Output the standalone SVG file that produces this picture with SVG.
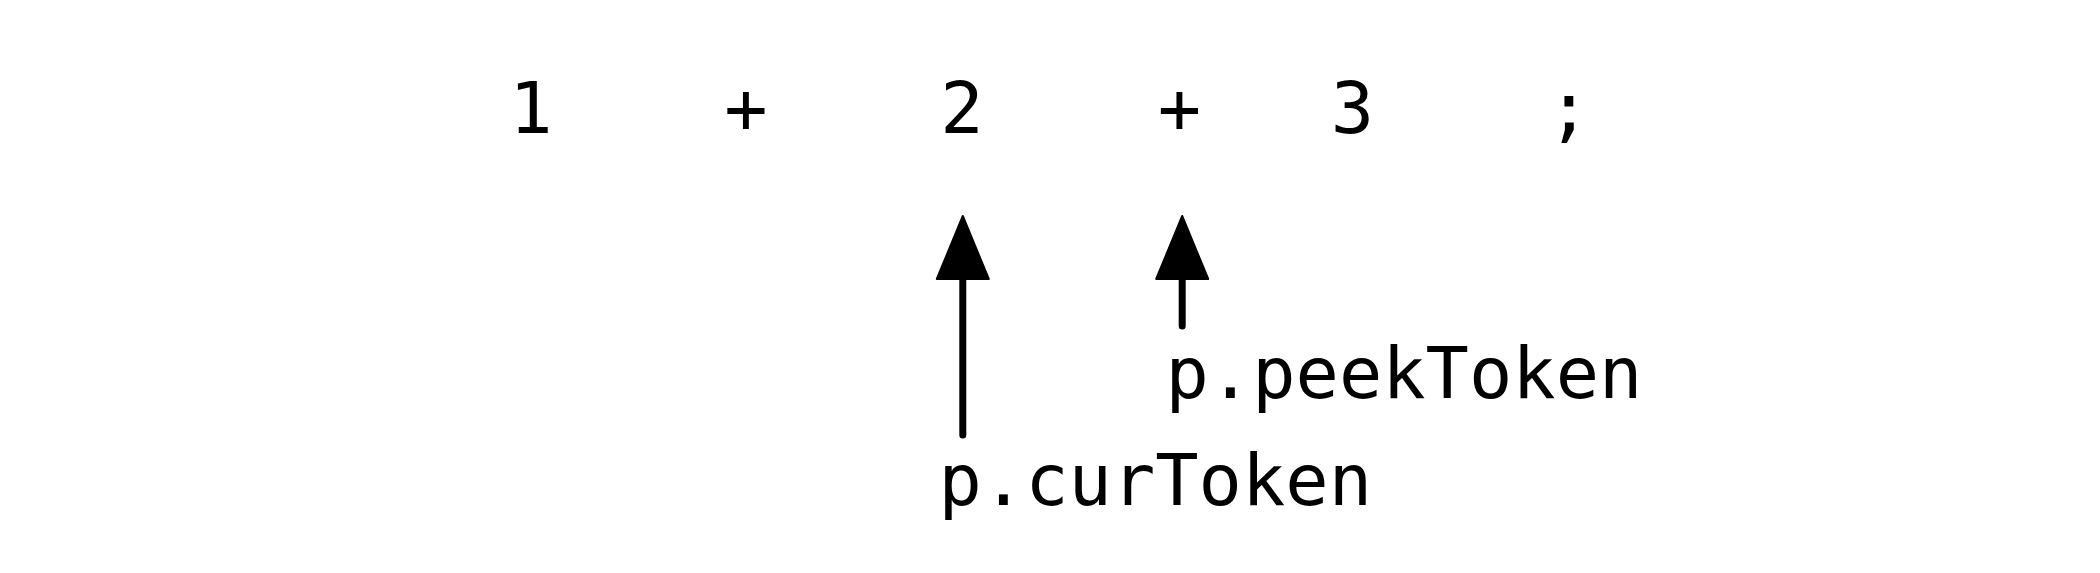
<svg xmlns="http://www.w3.org/2000/svg" width="2100" height="573" viewBox="0 0 2100 573">
<style>
  text { font-family: "DejaVu Sans Mono", "Liberation Mono", monospace; font-size: 72px; fill: #000; }
  .tok { text-anchor: middle; }
  .shaft { stroke: #000; stroke-width: 7; stroke-linecap: round; fill: none; }
  .head { fill: #000; stroke: #000; stroke-width: 2; stroke-linejoin: round; }
</style>
<rect x="0" y="0" width="2100" height="573" fill="#fff"/>
<g id="tokens">
  <g id="tok1"><text class="tok" x="531" y="133">1</text></g>
  <g id="tok2"><text class="tok" x="746" y="133">+</text></g>
  <g id="tok3"><text class="tok" x="962" y="133">2</text></g>
  <g id="tok4"><text class="tok" x="1179.5" y="133">+</text></g>
  <g id="tok5"><text class="tok" x="1352.5" y="133">3</text></g>
  <g id="tok6"><text class="tok" x="1569" y="133">;</text></g>
</g>
<g id="connectors">
  <line class="shaft" x1="962.8" y1="435" x2="962.8" y2="275"/>
  <polygon class="head" points="962.8,216 988.8,279 936.8,279"/>
  <line class="shaft" x1="1182.2" y1="326" x2="1182.2" y2="275"/>
  <polygon class="head" points="1182.2,216 1208.2,279 1156.2,279"/>
</g>
<g id="label-cur"><text x="938.5" y="505">p.curToken</text></g>
<g id="label-peek"><text x="1165.5" y="398">p.peekToken</text></g>
</svg>
